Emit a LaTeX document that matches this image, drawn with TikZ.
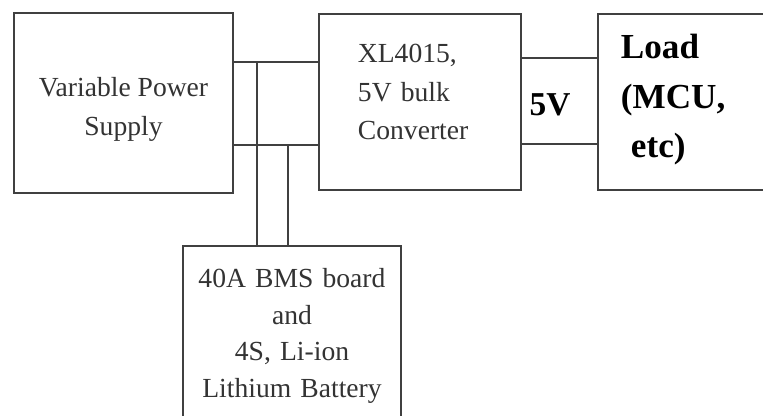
\documentclass[tikz,border=0pt]{standalone}
\usepackage{fontspec}
\setmainfont{Liberation Serif}
\usepackage{tikz}
\usetikzlibrary{positioning,calc}
\tikzset{
  pbox/.style={draw=black!75,line width=1.1pt,fill=white,inner sep=4pt,text=black!80},
  pwire/.style={line width=1.1pt,draw=black!75},
  ptext/.style={font=\fontsize{15.7}{22}\selectfont},
  pbold/.style={font=\fontsize{20}{28}\selectfont\bfseries,text=black}
}
\begin{document}
\begin{tikzpicture}
  \useasboundingbox (0,0) rectangle (15.26,-8.32);
  \clip (0,0) rectangle (15.26,-8.32);
  \node[pbox,ptext,align=center,minimum width=4.38cm,minimum height=3.6cm] (sup) at (2.47,-2.06) {\rule{0pt}{0.64cm}Variable Power\\ Supply};
  \node[pbox,ptext,anchor=north west,align=left,text width=2.48cm,inner xsep=0.78cm,minimum height=3.52cm] (conv) at (6.36,-0.26) {XL4015,\\ 5V bulk\\ Converter\rule[-0.4cm]{0pt}{0pt}};
  \node[pbox,pbold,anchor=north west,align=left,text width=3.5cm,inner xsep=0.46cm,minimum height=3.52cm] (load) at (11.94,-0.26) {Load\\ (MCU,\\ \hspace*{0.2cm}etc)\rule[-0.24cm]{0pt}{0pt}};
  \node[pbox,ptext,anchor=north,align=center,text width=3.96cm,inner xsep=0.2cm,inner ysep=0.44cm,font=\fontsize{15.7}{21}\selectfont] (bms) at (5.84,-4.9) {40A BMS board\\ and\\ 4S, Li-ion\\ Lithium Battery\rule[-1.2cm]{0pt}{0pt}};
  \node[pbold,font=\fontsize{19}{24}\selectfont\bfseries] (vout) at (11.0,-2.1) {5V};
  \coordinate (ja) at (5.14,-1.24);
  \coordinate (jb) at (5.76,-2.9);
  % supply to converter
  \draw[pwire] (sup.east |- ja) -- (conv.west |- ja);
  \draw[pwire] (sup.east |- jb) -- (conv.west |- jb);
  % battery taps
  \draw[pwire] (ja) -- (ja |- bms.north);
  \draw[pwire] (jb) -- (jb |- bms.north);
  % converter to load
  \draw[pwire] (conv.east |- 0,-1.16) -- (load.west |- 0,-1.16);
  \draw[pwire] (conv.east |- 0,-2.88) -- (load.west |- 0,-2.88);
\end{tikzpicture}
\end{document}
